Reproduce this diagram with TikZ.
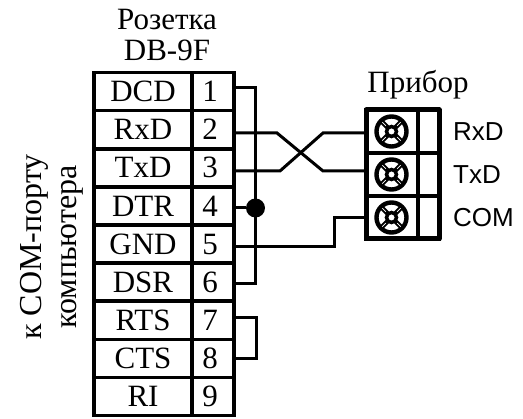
\documentclass[tikz,border=0pt]{standalone}
\usepackage{fontspec}
\setmainfont{Liberation Serif}
\setsansfont{Liberation Sans}
\usepackage{tikz}
\usetikzlibrary{positioning}
\tikzset{x=1pt,y=1pt}
\tikzstyle{signal} = [rectangle, draw, line width=3.6pt, outer sep=0pt, minimum width=98pt, minimum height=38pt, inner sep=0pt, font=\fontsize{31}{31}\selectfont]
\tikzstyle{pin} = [signal, minimum width=42pt, execute at begin node={\kern-6pt}]
\tikzstyle{clamp} = [rectangle, draw, line width=3.4pt, outer sep=0pt, minimum width=52pt, minimum height=43pt]
\tikzstyle{tagbox} = [clamp, minimum width=21pt]
\tikzstyle{caption} = [align=center, inner sep=0pt, font=\fontsize{31}{31}\selectfont]
\tikzstyle{port} = [inner sep=0pt, font=\sffamily\fontsize{26}{26}\selectfont]
\tikzstyle{line} = [draw, line width=3pt]
\tikzstyle{dot} = [circle, fill=black, inner sep=0pt, minimum size=19pt]
\newcommand{\screwhead}[1]{%
  \begin{scope}[shift={(#1)}]
    \draw [line width=4.4pt] (-0.5,0) circle (15);
    \foreach \a in {45,135,225,315} {
      \draw [line width=4.6pt] (-0.5,0) -- ++(\a:15);
      \draw [white, line width=0.7pt] ($(-0.5,0)+(\a:8)$) -- ($(-0.5,0)+(\a:13)$);
    }
    \draw [fill=white, line width=3.5pt] (-0.5,0) circle (5);
  \end{scope}}
\usetikzlibrary{calc}

\begin{document}
\begin{tikzpicture}[node distance = 38.15pt]
\useasboundingbox (0,0) rectangle (523,419);
% Socket table
    \node [signal] (dcd) at (143,327.5) {DCD};
    \node [signal, below of=dcd] (rxd) {RxD};
    \node [signal, below of=rxd] (txd) {TxD};
    \node [signal, below of=txd] (dtr) {DTR};
    \node [signal, below of=dtr] (gnd) {GND};
    \node [signal, below of=gnd] (dsr) {DSR};
    \node [signal, below of=dsr] (rts) {RTS};
    \node [signal, below of=rts] (cts) {CTS};
    \node [signal, below of=cts] (ri) {RI};
    \node [pin, right of=dcd, node distance=70pt] (p1) {1};
    \node [pin, below of=p1] (p2) {2};
    \node [pin, below of=p2] (p3) {3};
    \node [pin, below of=p3] (p4) {4};
    \node [pin, below of=p4] (p5) {5};
    \node [pin, below of=p5] (p6) {6};
    \node [pin, below of=p6] (p7) {7};
    \node [pin, below of=p7] (p8) {8};
    \node [pin, below of=p8] (p9) {9};
% Captions
    \node [caption] (socket) at (167,383.5) {Розетка\\DB-9F};
    \node [caption, rotate=90, font=\fontsize{32}{35}\selectfont] (pc) at (51.5,172) {к COM-порту\\компьютера};
% Device terminal block
    \node [clamp] (t1) at (392,287.5) {};
    \node [clamp, below of=t1, node distance=43pt] (t2) {};
    \node [clamp, below of=t2, node distance=43pt] (t3) {};
    \node [tagbox, right of=t1, node distance=36.5pt] (m1) {};
    \node [tagbox, right of=t2, node distance=36.5pt] (m2) {};
    \node [tagbox, right of=t3, node distance=36.5pt] (m3) {};
    \node [caption, above=11pt of t1.north east] (device) {Прибор};
    \node [port, right=14pt of m1] (prxd) {RxD};
    \node [port, right=14pt of m2] (ptxd) {TxD};
    \node [port, right=14pt of m3] (pcom) {COM};
    \draw [line width=5pt, line join=round] (t1.north west) rectangle (m3.south east);
    \screwhead{t1}
    \screwhead{t2}
    \screwhead{t3}
% Wiring
    \node [dot] (tie) at (255.5,211) {};
    \coordinate (loop) at ([xshift=22pt]p7.east);
    \coordinate (a2) at ([xshift=43pt,yshift=-3.35pt]p2.east);
    \coordinate (b2) at ([xshift=89pt,yshift=-3.35pt]p2.east);
    \coordinate (a3) at ([xshift=46pt,yshift=-3.2pt]p3.east);
    \coordinate (b3) at ([xshift=89pt,yshift=-3.2pt]p3.east);
    \coordinate (g5) at ([xshift=100pt,yshift=-2.4pt]p5.east);

    \path [line] ([yshift=3.5pt]p1.east) -| (tie.center) |- ([yshift=-1.75pt]p6.east);
    \path [line] (p4.east |- tie) -- (tie);
    \path [line] ([yshift=2.4pt]p7.east) -| (loop) |- (p8.east);
    \path [line] ([yshift=-3.35pt]p2.east) -- (a2) -- (b3) -- ([yshift=3.5pt]t2.west);
    \path [line] ([yshift=-3.2pt]p3.east) -- (a3) -- (b2) -- ([yshift=-1.5pt]t1.west);
    \path [line] ([yshift=-2.4pt]p5.east) -- (g5) |- (t3.west);
\end{tikzpicture}
\end{document}
